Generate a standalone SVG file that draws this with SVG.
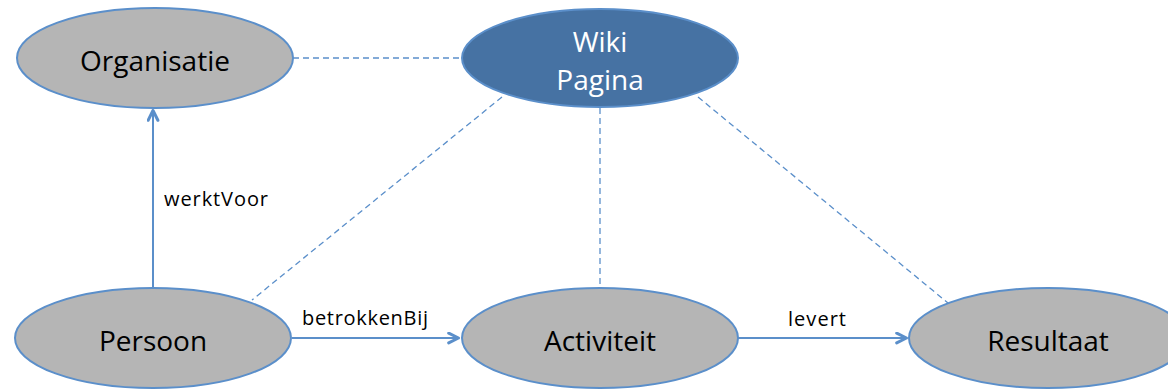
<svg xmlns="http://www.w3.org/2000/svg" width="1168" height="391" viewBox="0 0 1168 391">
<style>
.node{fill:#b5b5b5;stroke:#5b8fca;stroke-width:2}
.wiki{fill:#4672a3;stroke:#5b8fca;stroke-width:2}
.t{font-family:"Open Sans","Liberation Sans",sans-serif;font-size:28px;fill:#000;text-anchor:middle}
.tw{fill:#fff}
.lbl{font-family:"Open Sans","Liberation Sans",sans-serif;font-size:20px;fill:#000}
.dash{stroke:#5b8fca;stroke-width:1.3;stroke-dasharray:6,4;fill:none}
.arr{stroke:#5b8fca;stroke-width:2;fill:none;marker-end:url(#ah)}
</style>
<defs>
<marker id="ah" viewBox="0 0 12 12" refX="11" refY="6" markerWidth="13" markerHeight="13" markerUnits="userSpaceOnUse" orient="auto">
<path d="M1.5,1.5 L10.5,6 L1.5,10.5" fill="none" stroke="#5b8fca" stroke-width="2.8" stroke-linecap="round" stroke-linejoin="round"/>
</marker>
</defs>
<g id="connectors">
<line class="dash" x1="293" y1="58" x2="462" y2="58"/>
<line class="dash" x1="502" y1="97" x2="252" y2="300"/>
<line class="dash" x1="600" y1="108" x2="600" y2="287"/>
<line class="dash" x1="698" y1="97" x2="948" y2="303"/>
<line class="arr" x1="153" y1="288" x2="153" y2="110"/>
<line class="arr" x1="292" y1="338" x2="459" y2="338"/>
<line class="arr" x1="738" y1="338" x2="907" y2="338"/>
<text class="lbl" x="164" y="206" textLength="104">werktVoor</text>
<text class="lbl" x="302" y="325" textLength="126">betrokkenBij</text>
<text class="lbl" x="788" y="326" textLength="58">levert</text>
</g>
<g id="organisatie">
<ellipse class="node" cx="155" cy="58" rx="138" ry="50"/>
<text class="t" x="155" y="71">Organisatie</text>
</g>
<g id="wikipagina">
<ellipse class="wiki" cx="600" cy="58" rx="138" ry="49"/>
<text class="t tw" x="600" y="52">Wiki</text>
<text class="t tw" x="600" y="90">Pagina</text>
</g>
<g id="persoon">
<ellipse class="node" cx="153" cy="338" rx="138" ry="50"/>
<text class="t" x="153" y="351">Persoon</text>
</g>
<g id="activiteit">
<ellipse class="node" cx="600" cy="338" rx="138" ry="50"/>
<text class="t" x="600" y="351">Activiteit</text>
</g>
<g id="resultaat">
<ellipse class="node" cx="1048" cy="338" rx="139" ry="50"/>
<text class="t" x="1048" y="351">Resultaat</text>
</g>
</svg>
